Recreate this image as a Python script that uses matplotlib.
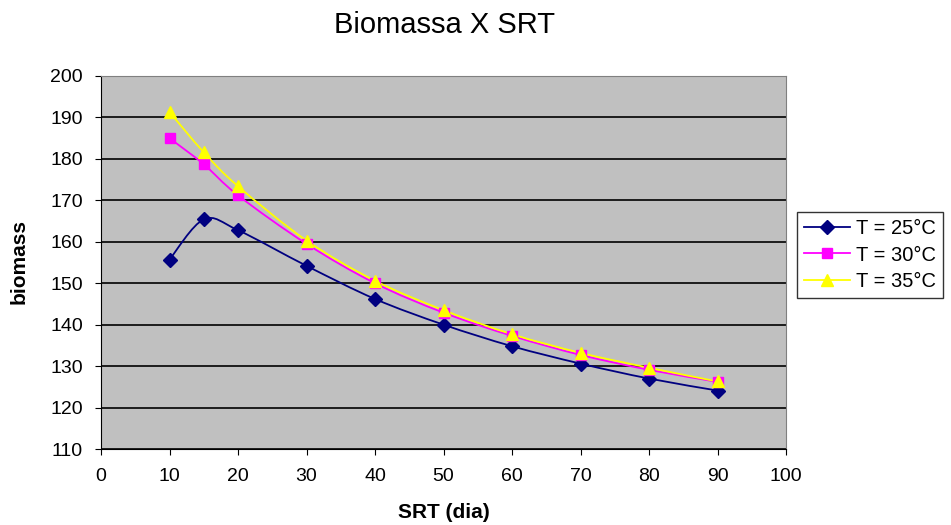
import numpy as np
import matplotlib.pyplot as plt
from matplotlib.path import Path
from matplotlib.patches import PathPatch

plt.rcParams["font.family"] = ["Liberation Sans", "DejaVu Sans"]

srt = [10, 15, 20, 30, 40, 50, 60, 70, 80, 90]
t25 = [155.7, 165.4, 162.8, 154.2, 146.2, 140.0, 134.8, 130.6, 127.0, 124.1]
t30 = [185.0, 178.7, 171.2, 159.5, 150.0, 142.9, 137.3, 132.7, 129.1, 126.2]
t35 = [191.3, 181.6, 173.4, 160.3, 150.6, 143.5, 137.7, 133.2, 129.6, 126.3]

series = [
    ("T = 25°C", t25, "#000080", "D", 7),
    ("T = 30°C", t30, "#FF00FF", "s", 7),
    ("T = 35°C", t35, "#FFFF00", "^", 9),
]


def smooth_path(x, y):
    # excel-like smoothed line: cubic bezier (catmull-rom) through the points
    p = np.column_stack([x, y]).astype(float)
    n = len(p)
    verts = [p[0]]
    codes = [Path.MOVETO]
    for i in range(n - 1):
        p0 = p[i - 1] if i > 0 else p[i]
        p3 = p[i + 2] if i + 2 < n else p[i + 1]
        c1 = p[i] + (p[i + 1] - p0) / 6
        c2 = p[i + 1] - (p3 - p[i]) / 6
        verts += [c1, c2, p[i + 1]]
        codes += [Path.CURVE4] * 3
    return Path(verts, codes)


fig = plt.figure(figsize=(9.51, 5.25), dpi=100)
ax = fig.add_axes([101 / 951, 1 - 449 / 525, 685 / 951, 373 / 525])
ax.set_facecolor("#C0C0C0")

for label, vals, col, mk, ms in series:
    ax.add_patch(PathPatch(smooth_path(srt, vals), facecolor="none",
                           edgecolor=col, lw=1.3, zorder=3))
    ax.plot(srt, vals, linestyle="none", marker=mk, color=col,
            markersize=ms, zorder=4)
    ax.plot([], [], marker=mk, color=col, markersize=ms, lw=1.3, label=label)

ax.set_xlim(0, 100)
ax.set_ylim(110, 200)
ax.set_xticks(range(0, 101, 10))
ax.set_yticks(range(110, 201, 10))
ax.grid(axis="y", color="black", lw=1.2)
ax.set_axisbelow(True)
for s in ax.spines.values():
    s.set_color("#808080")
ax.spines["left"].set_color("black")
ax.spines["bottom"].set_color("black")
ax.tick_params(direction="out", length=4, labelsize=14, color="black")
ax.tick_params(axis="y", pad=9)
ax.tick_params(axis="x", pad=10)

fig.text(444 / 951, 1 - 11 / 525, "Biomassa X SRT", fontsize=21,
         ha="center", va="top")
ax.set_xlabel("SRT (dia)", fontsize=15, fontweight="bold")
ax.set_ylabel("biomass", fontsize=15, fontweight="bold")
ax.xaxis.set_label_coords(0.5, -0.145)
ax.yaxis.set_label_coords(-0.106, 0.504)

leg = ax.legend(loc="center left", bbox_to_anchor=(1.016, 0.52), fontsize=14.5,
                frameon=True, fancybox=False, edgecolor="black",
                handlelength=2.3, borderpad=0.35, labelspacing=0.38,
                handletextpad=0.3, borderaxespad=0)
leg.get_frame().set_linewidth(1)

fig.savefig("out.png", dpi=100)
